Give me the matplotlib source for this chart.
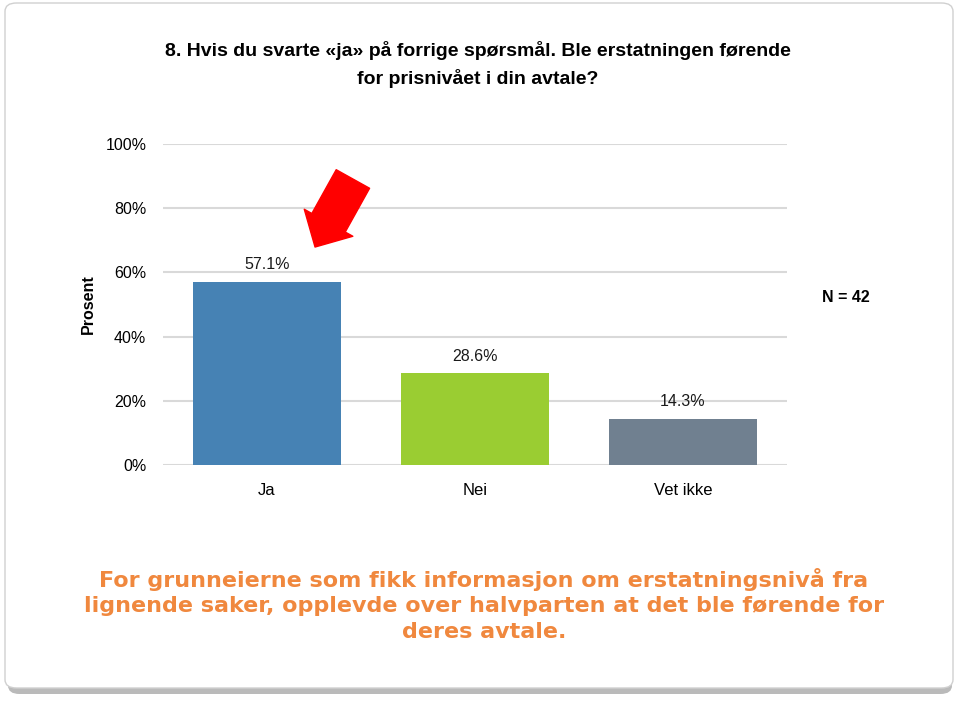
import numpy as np
import matplotlib
matplotlib.use("Agg")
import matplotlib.pyplot as plt
from matplotlib.patches import FancyBboxPatch

categories = ["Ja", "Nei", "Vet ikke"]
values = [57.1, 28.6, 14.3]
value_labels = ["57.1%", "28.6%", "14.3%"]
yticks = [0, 20, 40, 60, 80, 100]
ytick_labels = ["0%", "20%", "40%", "60%", "80%", "100%"]
bar_colors = ["#4682B4", "#9ACD32", "#708090"]

W, H = 960, 702
fig = plt.figure(figsize=(W / 100, H / 100), dpi=100)

# --> card with shadow
shadow = FancyBboxPatch((8 / W, 8 / H), 944 / W, 685 / H,
                        boxstyle="round,pad=0,rounding_size=0.012",
                        transform=fig.transFigure, facecolor="#8c8c8c",
                        edgecolor="none", alpha=0.6, zorder=0)
card = FancyBboxPatch((5 / W, 14 / H), 948 / W, 685 / H,
                      boxstyle="round,pad=0,rounding_size=0.012",
                      transform=fig.transFigure, facecolor="white",
                      edgecolor="#d0d0d0", linewidth=1.0, zorder=0.5)
fig.patches.extend([shadow, card])

cal = ["Liberation Sans", "DejaVu Sans"]

ax = fig.add_axes([163 / W, 1 - 465 / H, 624 / W, 321 / H])
ax.set_zorder(2)
ax.set_facecolor("none")
x = np.arange(len(categories))
ax.bar(x, values, width=0.716, color=bar_colors, zorder=3)
for xi, v, lab in zip(x, values, value_labels):
    ax.text(xi, v + 3.0, lab, ha="center", va="bottom", fontsize=11.5,
            family=cal, color="#1a1a1a")

ax.set_xlim(-0.5, 2.5)
ax.set_ylim(0, 100)
ax.set_yticks(yticks)
ax.set_yticklabels(ytick_labels, family=cal, fontsize=11.5)
ax.set_xticks(x)
ax.set_xticklabels(categories, family=cal, fontsize=12)
ax.grid(axis="y", color="#d9d9d9", linewidth=1.5, zorder=0)
ax.tick_params(length=0, pad=12)
ax.tick_params(axis="x", pad=13)
for s in ax.spines.values():
    s.set_visible(False)
ax.set_ylabel("Prosent", family=cal, fontsize=11.5, fontweight="bold", labelpad=7)

# --> flèche rouge
ax.annotate("", xy=(0.231, 67.9), xytext=(0.413, 89.1),
            arrowprops=dict(arrowstyle="simple,head_length=0.8,head_width=1.6,tail_width=1.1",
                            color="#ff0000", mutation_scale=25,
                            shrinkA=0, shrinkB=0), zorder=5)

fig.text(846 / W, 1 - 297 / H, "N = 42", ha="center", va="center",
         fontsize=11.5, family=cal, fontweight="bold")

fig.text(478 / W, 1 - 64 / H,
         "8. Hvis du svarte «ja» på forrige spørsmål. Ble erstatningen førende\nfor prisnivået i din avtale?",
         ha="center", va="center", fontsize=14, family=cal, fontweight="bold",
         linespacing=1.6)

fig.text(484 / W, 1 - 605 / H,
         "For grunneierne som fikk informasjon om erstatningsnivå fra\n"
         "lignende saker, opplevde over halvparten at det ble førende for\n"
         "deres avtale.",
         ha="center", va="center", fontsize=16, family="DejaVu Sans",
         fontweight="bold", color="#f0883e", linespacing=1.35)

fig.savefig("out.png", dpi=100)
